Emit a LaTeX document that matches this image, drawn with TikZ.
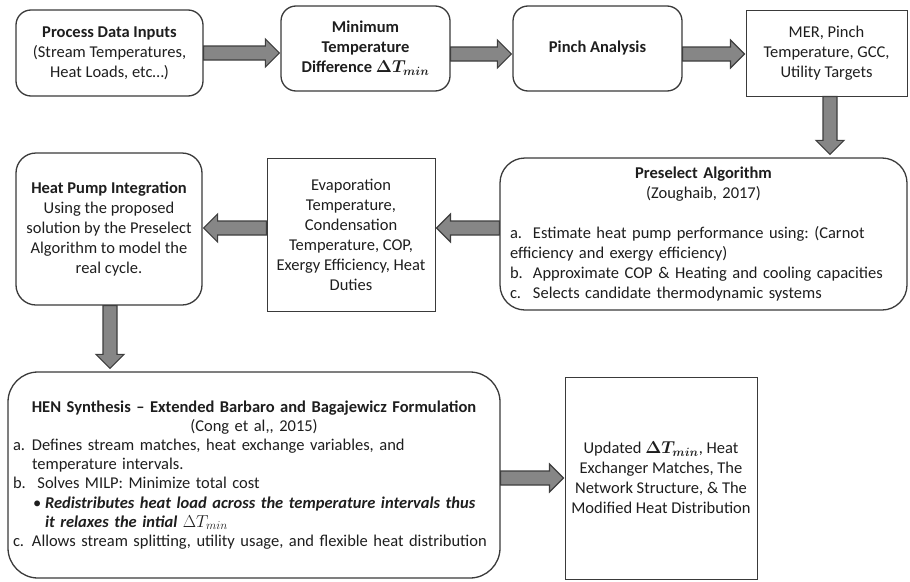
\documentclass[tikz,border=0pt]{standalone}
\usepackage{fontspec}
\setmainfont{Carlito}
\usepackage{amsmath,bm}
\usetikzlibrary{calc}
\definecolor{boxline}{HTML}{3A3A3A}
\definecolor{arrfill}{HTML}{868686}
\definecolor{arrline}{HTML}{3E3E3E}
\definecolor{txt}{HTML}{1E1E1E}
\tikzset{
  box/.style={draw=boxline, line width=1.3pt, fill=white, align=center, text=txt,
    font=\fontsize{16.5}{20}\selectfont\frenchspacing, inner sep=0pt},
  sbox/.style={box, line width=1.0pt},
  arr/.style={draw=arrline, fill=arrfill, line width=1.1pt, line join=miter},
}
% right-pointing block arrow: from node #1 to node #2 at height #3
\newcommand\rarr[3]{\filldraw[arr] let \p1=(#1.east), \p2=(#2.west), \p3=(0,#3) in
  (\x1,\y3+7pt) -- (\x2-15pt,\y3+7pt) -- (\x2-15pt,\y3+14pt) -- (\x2-1pt,\y3)
  -- (\x2-15pt,\y3-14pt) -- (\x2-15pt,\y3-7pt) -- (\x1,\y3-7pt) -- cycle;}
% left-pointing block arrow
\newcommand\larr[3]{\filldraw[arr] let \p1=(#1.west), \p2=(#2.east), \p3=(0,#3) in
  (\x1,\y3+7pt) -- (\x2+15pt,\y3+7pt) -- (\x2+15pt,\y3+14pt) -- (\x2+1pt,\y3)
  -- (\x2+15pt,\y3-14pt) -- (\x2+15pt,\y3-7pt) -- (\x1,\y3-7pt) -- cycle;}
% down-pointing block arrow at x #3
\newcommand\darr[3]{\filldraw[arr] let \p1=(#1.south), \p2=(#2.north), \p3=(#3,0) in
  (\x3-7pt,\y1) -- (\x3-7pt,\y2+17pt) -- (\x3-14pt,\y2+17pt) -- (\x3,\y2+3pt)
  -- (\x3+14pt,\y2+17pt) -- (\x3+7pt,\y2+17pt) -- (\x3+7pt,\y1) -- cycle;}
\begin{document}
\begin{tikzpicture}[x=1pt,y=-1pt]
\useasboundingbox (0,0) rectangle (910,581);
% top row
\node[box, rounded corners=15pt, minimum width=187pt, minimum height=86pt] (inputs) at (109.5,53)
  {\textbf{Process Data Inputs}\\(Stream Temperatures,\\Heat Loads, etc…)};
\node[box, rounded corners=15pt, minimum width=169pt, minimum height=85pt] (dtmin) at (365.5,48.5)
  {\textbf{Minimum}\\\textbf{Temperature}\\\textbf{Difference} $\bm{\Delta T_{min}}$};
\node[box, rounded corners=15pt, minimum width=169pt, minimum height=85pt] (pinch) at (597.5,48.5)
  {\textbf{Pinch Analysis}};
\node[sbox, minimum width=161pt, minimum height=86pt] (mer) at (826.5,53)
  {MER, Pinch\\Temperature, GCC,\\Utility Targets};
% middle row
\node[box, rounded corners=25pt, minimum width=407pt, minimum height=152pt, text width=387pt, align=left] (pre) at (703.5,234)
  {{\centering\textbf{Preselect Algorithm}\\(Zoughaib, 2017)\par}\vspace{20pt}%
   \makebox[23pt][l]{a.}Estimate heat pump performance using: (Carnot\\
   efficiency and exergy efficiency)\\
   \makebox[23pt][l]{b.}Approximate COP \& Heating and cooling capacities\\
   \makebox[23pt][l]{c.}Selects candidate thermodynamic systems};
\node[sbox, minimum width=168pt, minimum height=153pt] (evap) at (351,234.5)
  {Evaporation\\Temperature,\\Condensation\\Temperature, COP,\\Exergy Efficiency, Heat\\Duties};
\node[box, rounded corners=20pt, minimum width=186pt, minimum height=152pt] (hpi) at (109,229)
  {\textbf{Heat Pump Integration}\\Using the proposed\\solution by the Preselect\\Algorithm to model the\\real cycle.};
% bottom row
\node[box, rounded corners=30pt, minimum width=492pt, minimum height=206pt, text width=482pt, align=left,
  font=\fontsize{16.5}{19.2}\selectfont\frenchspacing] (hen) at (254,475)
  {{\centering\textbf{HEN Synthesis -- Extended Barbaro and Bagajewicz Formulation}\\(Cong et al,{},{} 2015)\par}
   \makebox[19pt][l]{a.}Defines stream matches, heat exchange variables, and\\
   \hspace*{19pt}temperature intervals.\\
   \makebox[19pt][l]{b.}\ Solves MILP: Minimize total cost\\
   \hspace*{20pt}\makebox[12pt][l]{\textbullet}\textbf{\textit{Redistributes heat load across the temperature intervals thus}}\\
   \hspace*{32pt}\textbf{\textit{it relaxes the intial $\Delta T_{min}$}}\\
   \makebox[19pt][l]{c.}Allows stream splitting, utility usage, and flexible heat distribution};
\node[sbox, minimum width=192pt, minimum height=202pt] (upd) at (661,478)
  {Updated $\bm{\Delta T_{min}}$, Heat\\Exchanger Matches, The\\Network Structure, \& The\\Modified Heat Distribution};
% arrows
\rarr{inputs}{dtmin}{53}
\rarr{dtmin}{pinch}{54}
\rarr{pinch}{mer}{54}
\darr{mer}{pre}{830}
\larr{pre}{evap}{228}
\larr{evap}{hpi}{228}
\darr{hpi}{hen}{110}
\rarr{hen}{upd}{478}
\end{tikzpicture}
\end{document}
